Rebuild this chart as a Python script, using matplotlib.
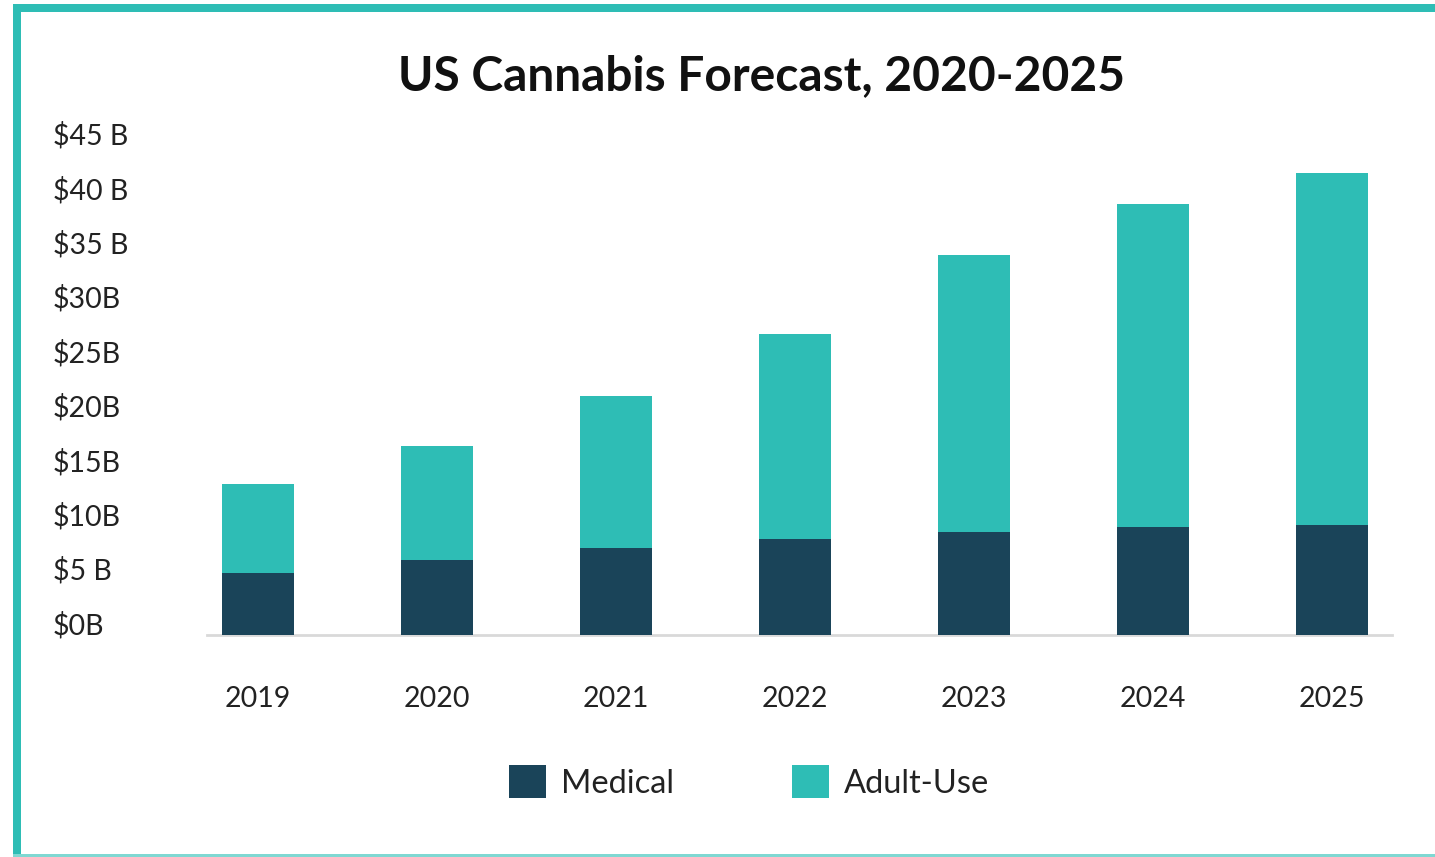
import matplotlib
matplotlib.use("Agg")
import matplotlib.pyplot as plt
from matplotlib.patches import Rectangle, Patch
from matplotlib.transforms import ScaledTranslation

years = ["2019", "2020", "2021", "2022", "2023", "2024", "2025"]
medical = [5.7, 6.9, 8.0, 8.8, 9.5, 9.9, 10.1]
total = [13.9, 17.4, 22.0, 27.7, 34.9, 39.6, 42.5]
adult_use = [t - m for t, m in zip(total, medical)]
ytick_vals = [0, 5, 10, 15, 20, 25, 30, 35, 40, 45]
ytick_labels = ["$0B", "$5 B", "$10B", "$15B", "$20B", "$25B", "$30B", "$35 B", "$40 B", "$45 B"]

C_MED = "#1a4459"
C_ADULT = "#2ebdb5"
C_FRAME = "#2ebdb5"

plt.rcParams['font.family'] = ['Lato', 'DejaVu Sans']

W, H = 1435, 857
fig = plt.figure(figsize=(W / 100, H / 100), dpi=100)
fig.patch.set_facecolor("white")

# frame
fig.patches.append(Rectangle((13 / W, 1 - 12 / H), 1 - 13 / W, 8 / H, transform=fig.transFigure,
                             facecolor=C_FRAME, edgecolor="none"))
fig.patches.append(Rectangle((13 / W, 0), 8 / W, 1 - 4 / H, transform=fig.transFigure,
                             facecolor=C_FRAME, edgecolor="none"))
fig.patches.append(Rectangle((13 / W, 0), 1 - 13 / W, 3 / H, transform=fig.transFigure,
                             facecolor="#7fd8d2", edgecolor="none"))

ax_left, ax_right = 207 / W, 1392 / W
ax_bottom = (H - 635) / H
ppb = 10.88
ax_top = (H - (635 - 45 * ppb)) / H
ax = fig.add_axes([ax_left, ax_bottom, ax_right - ax_left, ax_top - ax_bottom])

x = list(range(len(years)))
bw = 0.40
ax.bar(x, medical, width=bw, color=C_MED, label="Medical", zorder=2)
ax.bar(x, adult_use, width=bw, bottom=medical, color=C_ADULT, label="Adult-Use", zorder=2)

ax.set_xlim(-0.285, 6.335)
ax.set_ylim(0, 45)
for s in ["top", "right", "left"]:
    ax.spines[s].set_visible(False)
ax.spines["bottom"].set_color("#d9d9d9")
ax.spines["bottom"].set_linewidth(2)
ax.spines["bottom"].set_zorder(1)

ax.set_xticks(x)
ax.set_xticklabels(years, fontsize=20.5, color="#222222")
ax.tick_params(axis="x", length=0, pad=37)

ax.set_yticks(ytick_vals)
ax.set_yticklabels(ytick_labels, fontsize=20.5, color="#222222")
ax.tick_params(axis="y", length=0, pad=0)
off = ScaledTranslation(-(207 - 53) / 100, 12 / 100, fig.dpi_scale_trans)
for lab in ax.get_yticklabels():
    lab.set_horizontalalignment("left")
    lab.set_transform(lab.get_transform() + off)

fig.text(761 / W, 1 - 76 / H, "US Cannabis Forecast, 2020-2025", ha="center", va="center",
         fontsize=34.5, fontweight="bold", color="#111111")

handles = [Patch(facecolor=C_MED, label="Medical"), Patch(facecolor=C_ADULT, label="Adult-Use")]
fig.legend(handles=handles, loc="center", bbox_to_anchor=(749 / W, 1 - 782 / H), ncol=2,
           frameon=False, fontsize=23.5, handlelength=1.15, handleheight=1.15,
           handletextpad=0.45, columnspacing=3.6, labelcolor="#222222")

fig.savefig("out.png", dpi=100)
